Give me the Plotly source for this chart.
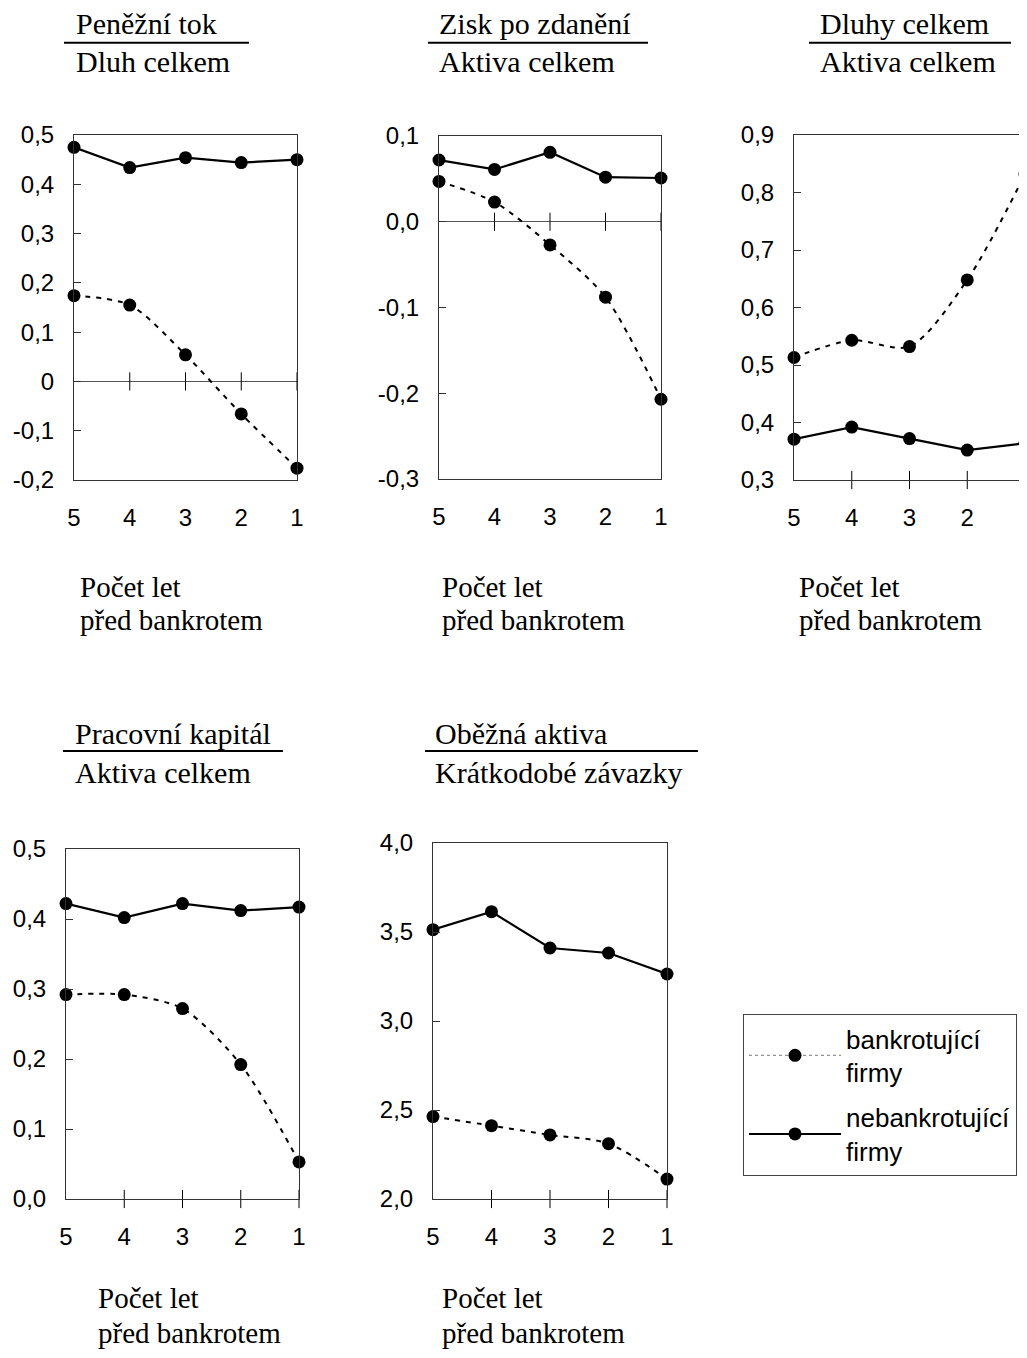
import plotly.graph_objects as go

W, H = 1027, 1358
OFF = 8  # page body margin offset compensation

# ---------------- data ----------------
years = [5, 4, 3, 2, 1]
tick_years = [4, 3, 2, 1]

bank_pt = [0.174, 0.155, 0.054, -0.066, -0.176]
nonbank_pt = [0.475, 0.434, 0.454, 0.444, 0.450]

bank_zisk = [0.047, 0.023, -0.027, -0.088, -0.207]
nonbank_zisk = [0.072, 0.061, 0.081, 0.052, 0.051]

bank_dluhy = [0.513, 0.543, 0.532, 0.648, 0.832]
nonbank_dluhy = [0.371, 0.392, 0.372, 0.352, 0.364]

bank_pk = [0.292, 0.292, 0.272, 0.192, 0.053]
nonbank_pk = [0.422, 0.402, 0.422, 0.412, 0.417]

bank_oa = [2.463, 2.412, 2.360, 2.311, 2.112]
nonbank_oa = [3.513, 3.614, 3.410, 3.382, 3.264]

yt1 = [0.5, 0.4, 0.3, 0.2, 0.1, 0.0, -0.1, -0.2]
yl1 = ["0,5", "0,4", "0,3", "0,2", "0,1", "0", "-0,1", "-0,2"]
yt2 = [0.1, 0.0, -0.1, -0.2, -0.3]
yl2 = ["0,1", "0,0", "-0,1", "-0,2", "-0,3"]
yt3 = [0.9, 0.8, 0.7, 0.6, 0.5, 0.4, 0.3]
yl3 = ["0,9", "0,8", "0,7", "0,6", "0,5", "0,4", "0,3"]
yt4 = [0.5, 0.4, 0.3, 0.2, 0.1, 0.0]
yl4 = ["0,5", "0,4", "0,3", "0,2", "0,1", "0,0"]
yt5 = [4.0, 3.5, 3.0, 2.5, 2.0]
yl5 = ["4,0", "3,5", "3,0", "2,5", "2,0"]

numerators = ["Peněžní tok", "Zisk po zdanění", "Dluhy celkem", "Pracovní kapitál", "Oběžná aktiva"]
denominators = ["Dluh celkem", "Aktiva celkem", "Aktiva celkem", "Aktiva celkem", "Krátkodobé závazky"]
xtitle1 = "Počet let"
xtitle2 = "před bankrotem"
legend_names = ["bankrotující<br>firmy", "nebankrotující<br>firmy"]

# ---------------- layout config ----------------
panels = [
    dict(bank=bank_pt, non=nonbank_pt, yt=yt1, yl=yl1, yr=[-0.2, 0.5], cross=0.0,
         box=(74, 297, 135, 480), title_x=74, bar=(64, 249), row_y=(24, 62, 42.7), xt_x=78, xt_y=(587, 620)),
    dict(bank=bank_zisk, non=nonbank_zisk, yt=yt2, yl=yl2, yr=[-0.3, 0.1], cross=0.0,
         box=(439, 661, 136, 479), title_x=437, bar=(428, 648), row_y=(24, 62, 42.7), xt_x=440, xt_y=(587, 620)),
    dict(bank=bank_dluhy, non=nonbank_dluhy, yt=yt3, yl=yl3, yr=[0.3, 0.9], cross=0.3,
         box=(794, 1025, 135, 480), title_x=818, bar=(809, 1011), row_y=(24, 62, 42.7), xt_x=797, xt_y=(587, 620)),
    dict(bank=bank_pk, non=nonbank_pk, yt=yt4, yl=yl4, yr=[0.0, 0.5], cross=0.0,
         box=(66, 299, 849, 1199), title_x=73, bar=(63, 283), row_y=(733, 772, 751), xt_x=96, xt_y=(1298, 1333)),
    dict(bank=bank_oa, non=nonbank_oa, yt=yt5, yl=yl5, yr=[2.0, 4.0], cross=2.0,
         box=(433, 667, 843, 1199), title_x=433, bar=(425, 698), row_y=(733, 772, 751), xt_x=440, xt_y=(1298, 1333)),
]

SANS = "Liberation Sans, Arial, sans-serif"
SERIF = "Liberation Serif, Times New Roman, serif"
AX = "#333333"


def px_x(v):
    return (v - OFF) / W


def px_y(v):
    return 1 - (v - OFF) / H


fig = go.Figure()
annotations = []
shapes = []
layout = {}

for i, p in enumerate(panels, start=1):
    xs = "x" if i == 1 else f"x{i}"
    ys = "y" if i == 1 else f"y{i}"
    x0, x1, y0, y1 = p["box"]

    # bankrupt (dashed, smoothed)
    fig.add_trace(go.Scatter(
        x=years, y=p["bank"], xaxis=xs, yaxis=ys, mode="lines+markers",
        line=dict(color="black", width=2, dash="5px,6px", shape="spline", smoothing=0.8),
        marker=dict(color="black", size=13), cliponaxis=False, showlegend=False,
        hoverinfo="skip"))
    # non-bankrupt (solid)
    fig.add_trace(go.Scatter(
        x=years, y=p["non"], xaxis=xs, yaxis=ys, mode="lines+markers",
        line=dict(color="black", width=2.2),
        marker=dict(color="black", size=13), cliponaxis=False, showlegend=False,
        hoverinfo="skip"))
    # crossing tick marks on the x axis line
    fig.add_trace(go.Scatter(
        x=tick_years, y=[p["cross"]] * len(tick_years), xaxis=xs, yaxis=ys, mode="markers",
        marker=dict(symbol="line-ns", size=13, color="black", line=dict(width=1, color="black")),
        cliponaxis=False, showlegend=False, hoverinfo="skip"))

    xk = "xaxis" if i == 1 else f"xaxis{i}"
    yk = "yaxis" if i == 1 else f"yaxis{i}"
    layout[xk] = dict(
        domain=[px_x(x0), px_x(x1)], range=[5, 1], anchor=ys, automargin=False,
        showline=True, mirror=True, linecolor=AX, linewidth=1,
        showgrid=False, zeroline=False, ticks="",
        tickmode="array", tickvals=years, ticktext=[str(v) for v in years],
        tickfont=dict(family=SANS, size=24, color="black"), ticklabelstandoff=16,
    )
    layout[yk] = dict(
        domain=[px_y(y1), px_y(y0)], range=p["yr"], anchor=xs, automargin=False,
        showline=True, mirror=True, linecolor=AX, linewidth=1,
        showgrid=False, zeroline=(p["cross"] == 0.0 and p["yr"][0] < 0),
        zerolinecolor="#555555", zerolinewidth=1,
        ticks="inside", ticklen=7, tickcolor=AX, tickwidth=1,
        tickmode="array", tickvals=p["yt"], ticktext=p["yl"],
        tickfont=dict(family=SANS, size=24, color="black"), ticklabelstandoff=14,
    )

    # fraction title
    ny, dy, by = p["row_y"]
    annotations.append(dict(text=numerators[i - 1], xref="paper", yref="paper",
                            x=px_x(p["title_x"]), y=px_y(ny), xanchor="left", yanchor="middle",
                            showarrow=False, font=dict(family=SERIF, size=30, color="black")))
    annotations.append(dict(text=denominators[i - 1], xref="paper", yref="paper",
                            x=px_x(p["title_x"]), y=px_y(dy), xanchor="left", yanchor="middle",
                            showarrow=False, font=dict(family=SERIF, size=30, color="black")))
    shapes.append(dict(type="line", xref="paper", yref="paper",
                       x0=px_x(p["bar"][0]), x1=px_x(p["bar"][1]), y0=px_y(by), y1=px_y(by),
                       line=dict(color="black", width=2)))
    # x axis title
    annotations.append(dict(text=xtitle1, xref="paper", yref="paper",
                            x=px_x(p["xt_x"]), y=px_y(p["xt_y"][0]), xanchor="left", yanchor="middle",
                            showarrow=False, font=dict(family=SERIF, size=29, color="black")))
    annotations.append(dict(text=xtitle2, xref="paper", yref="paper",
                            x=px_x(p["xt_x"]), y=px_y(p["xt_y"][1]), xanchor="left", yanchor="middle",
                            showarrow=False, font=dict(family=SERIF, size=29, color="black")))

# legend-only traces
fig.add_trace(go.Scatter(x=[None], y=[None], mode="lines+markers", name=legend_names[0],
                         legendgroup="a",
                         line=dict(color="#777777", width=1, dash="dot"),
                         marker=dict(color="black", size=13), showlegend=True))
fig.add_trace(go.Scatter(x=[None], y=[None], mode="lines+markers", name=legend_names[1],
                         legendgroup="b",
                         line=dict(color="black", width=2),
                         marker=dict(color="black", size=13), showlegend=True))

fig.update_layout(
    template="none",
    width=W, height=H,
    margin=dict(l=0, r=0, t=0, b=0, autoexpand=False),
    paper_bgcolor="white", plot_bgcolor="white",
    annotations=annotations, shapes=shapes,
    legend=dict(x=px_x(743), y=px_y(1014), xanchor="left", yanchor="top",
                bgcolor="white", bordercolor="#444444", borderwidth=1,
                font=dict(family=SANS, size=26, color="black"),
                itemwidth=92, tracegroupgap=8),
    **layout,
)

fig.write_html("out.html",
               post_script="document.documentElement.style.overflow='hidden';")
